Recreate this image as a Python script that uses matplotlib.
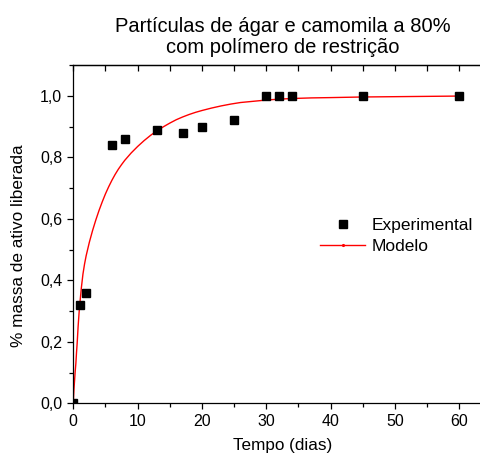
import matplotlib
matplotlib.use("Agg")
import matplotlib.pyplot as plt
from matplotlib.ticker import MultipleLocator, FuncFormatter
from matplotlib.lines import Line2D

plt.rcParams['font.family'] = ['Liberation Sans', 'DejaVu Sans']

# Experimental data
exp_t = [0, 1, 2, 6, 8, 13, 17, 20, 25, 30, 32, 34, 45, 60]
exp_y = [0.0, 0.32, 0.36, 0.84, 0.86, 0.89, 0.88, 0.90, 0.92, 1.0, 1.0, 1.0, 1.0, 1.0]

# Model curve
mod_t = [0, 0.05, 0.1, 0.2, 0.3, 0.4, 0.5, 0.6, 0.75, 0.9, 1.0, 1.25, 1.5, 1.75,
         2.0, 2.5, 3.0, 3.5, 4.0, 4.5, 5.0, 5.5, 6.0, 6.5, 7.0, 7.5, 8.0, 9.0,
         10, 11, 12, 13, 14, 15, 16, 17, 18, 19, 20, 21.5, 23, 24.5, 26, 28,
         30, 32, 34, 37, 40, 45, 50, 55, 60]
mod_y = [0.0, 0.025, 0.045, 0.075, 0.105, 0.13, 0.165, 0.195, 0.25, 0.295,
         0.32, 0.375, 0.42, 0.453, 0.48, 0.524, 0.562, 0.596, 0.627, 0.655,
         0.681, 0.704, 0.725, 0.744, 0.761, 0.776, 0.79, 0.814, 0.835, 0.854,
         0.871, 0.886, 0.899, 0.911, 0.922, 0.931, 0.939, 0.946, 0.952, 0.96,
         0.967, 0.973, 0.978, 0.982, 0.986, 0.989, 0.991, 0.993, 0.994, 0.996,
         0.997, 0.998, 0.999]

title = "Partículas de ágar e camomila a 80%\ncom polímero de restrição"
xlabel = "Tempo (dias)"
ylabel = "% massa de ativo liberada"

W, H = 481, 462
fig = plt.figure(figsize=(W / 100, H / 100), dpi=100)
x0, x1 = 73.3, 491.3
y_top, y_bot = 65.0, 403.3
ax = fig.add_axes([x0 / W, 1 - y_bot / H, (x1 - x0) / W, (y_bot - y_top) / H])

ax.plot(mod_t, mod_y, color='#ff0000', lw=1.0, zorder=2)
ax.plot(exp_t, exp_y, ls='none', marker='s', markersize=5.4, color='black',
        zorder=3)

ax.set_xlim(0, 65)
ax.set_ylim(0, 1.1)

ax.xaxis.set_major_locator(MultipleLocator(10))
ax.xaxis.set_minor_locator(MultipleLocator(5))
ax.yaxis.set_major_locator(MultipleLocator(0.2))
ax.yaxis.set_minor_locator(MultipleLocator(0.1))
ax.yaxis.set_major_formatter(FuncFormatter(lambda v, p: f"{v:.1f}".replace('.', ',')))

for s in ['left', 'bottom', 'top', 'right']:
    ax.spines[s].set_linewidth(0.9)
ax.spines['right'].set_visible(False)

ax.tick_params(which='major', direction='out', length=4.5, width=0.9,
               labelsize=11.5, pad=3.5, colors='black')
ax.tick_params(which='minor', direction='out', length=3, width=0.9)
ax.tick_params(right=False, top=False)

sec = ax.secondary_xaxis('top')
sec.xaxis.set_major_locator(MultipleLocator(10))
sec.xaxis.set_minor_locator(MultipleLocator(5))
sec.tick_params(which='both', direction='in', length=4, width=0.9,
                labeltop=False)
sec.spines['top'].set_linewidth(0.9)

ax.set_xlabel(xlabel, fontsize=12.3, labelpad=6)
ax.set_ylabel(ylabel, fontsize=12.4)
ax.yaxis.set_label_coords(-(x0 - 26) / (x1 - x0), (y_bot - 246) / (y_bot - y_top))

fig.text(283 / W, 1 - 37 / H, title, ha='center', va='center',
         fontsize=14.5, linespacing=1.15)

h_exp = Line2D([], [], ls='none', marker='s', markersize=5.4, color='black')
h_mod = Line2D([], [], color='#ff0000', lw=1.0, marker='.', markersize=2.5)
leg = fig.legend([h_exp, h_mod], ['Experimental', 'Modelo'],
                 loc='center left', bbox_to_anchor=(320 / W, 1 - 236 / H),
                 frameon=False, fontsize=12.5, handlelength=2.6,
                 handletextpad=0.35, labelspacing=0.3, borderpad=0,
                 borderaxespad=0)

fig.savefig('out.png', dpi=100)
